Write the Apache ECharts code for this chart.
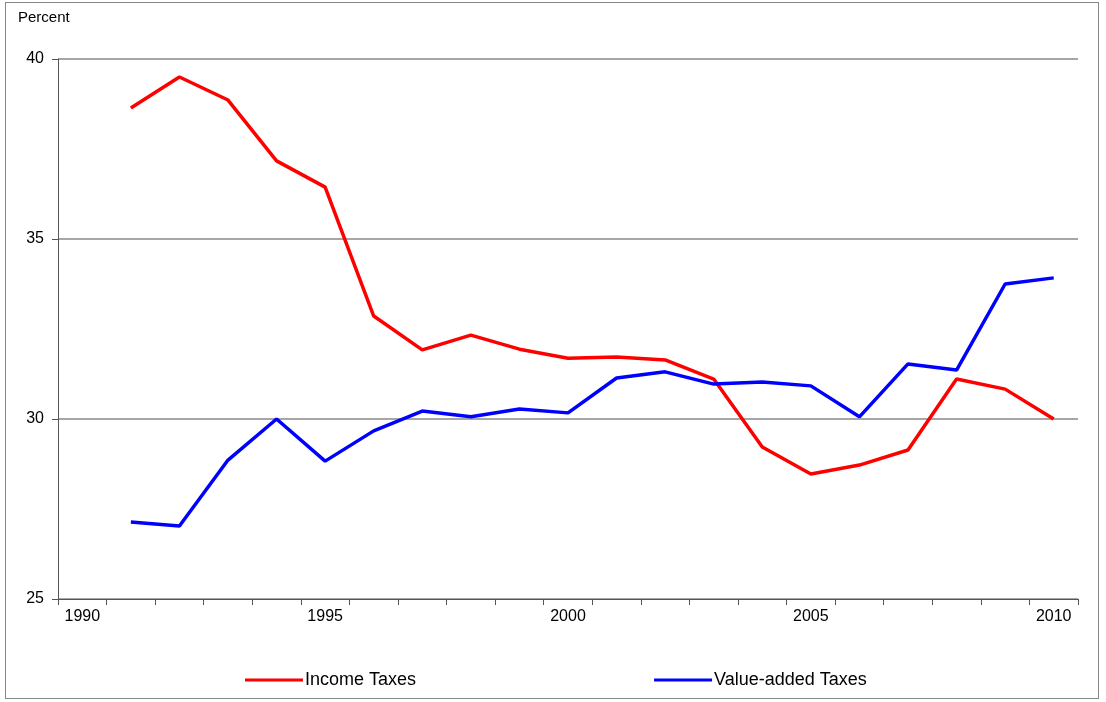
<!DOCTYPE html>
<html>
<head>
<meta charset="utf-8">
<script src="https://cdn.jsdelivr.net/npm/echarts@6/dist/echarts.min.js"></script>
<style>
  html, body { margin: 0; padding: 0; background: #fff; }
  #frame { position: absolute; left: 5px; top: 2px; width: 1094px; height: 697px; border: 1px solid #888; box-sizing: border-box; }
  #chart { position: absolute; left: 0; top: 0; width: 1106px; height: 702px; }
</style>
</head>
<body>
<div id="frame"></div>
<div id="chart"></div>
<script>
const years = ['1990','1991','1992','1993','1994','1995','1996','1997','1998','1999','2000',
               '2001','2002','2003','2004','2005','2006','2007','2008','2009','2010'];
const incomeTaxes = [null, 38.64, 39.5, 38.86, 37.17, 36.44, 32.86, 31.92, 32.33, 31.94, 31.69,
                     31.72, 31.64, 31.11, 29.22, 28.47, 28.72, 29.14, 31.11, 30.83, 30.0];
const valueAddedTaxes = [null, 27.14, 27.03, 28.86, 30.0, 28.83, 29.67, 30.22, 30.06, 30.28, 30.17,
                         31.14, 31.31, 30.97, 31.03, 30.92, 30.06, 31.53, 31.36, 33.75, 33.92];

let chart = echarts.init(document.getElementById('chart'));
const font = 'Liberation Sans, Arial, sans-serif';
chart.setOption({
    animation: false,
    textStyle: { fontFamily: font },
    grid: { left: 58, right: 28, top: 59, bottom: 103 },
    legend: {
        left: 240,
        bottom: 8,
        itemGap: 238,
        itemWidth: 58,
        icon: 'rect',
        itemHeight: 3,
        textStyle: { fontSize: 18, color: '#000', fontFamily: font, padding: [0, 0, 0, -3] },
        data: ['Income Taxes', 'Value-added Taxes']
    },
    xAxis: {
        type: 'category',
        data: years,
        boundaryGap: true,
        axisLine: { lineStyle: { color: '#555' } },
        axisTick: { show: true, interval: 0, length: 6, lineStyle: { color: '#555' } },
        axisLabel: { interval: 4, color: '#000', fontSize: 16, margin: 10 }
    },
    yAxis: {
        type: 'value',
        min: 25, max: 40, interval: 5,
        name: 'Percent',
        nameLocation: 'end',
        nameGap: 34,
        nameTextStyle: { color: '#000', fontSize: 15, align: 'left', padding: [0, 0, 0, -40] },
        axisLine: { show: true, lineStyle: { color: '#555' } },
        axisTick: { show: true, length: 6, lineStyle: { color: '#555' } },
        axisLabel: { color: '#000', fontSize: 16, margin: 14 },
        splitLine: { lineStyle: { color: '#888', width: 1.5 } }
    },
    series: [
        {
            name: 'Income Taxes', type: 'line', data: incomeTaxes,
            symbol: 'none', color: '#ff0000', lineStyle: { width: 3.5, color: '#ff0000' }
        },
        {
            name: 'Value-added Taxes', type: 'line', data: valueAddedTaxes,
            symbol: 'none', color: '#0000ff', lineStyle: { width: 3.5, color: '#0000ff' }
        }
    ]
});
</script>
</body>
</html>
